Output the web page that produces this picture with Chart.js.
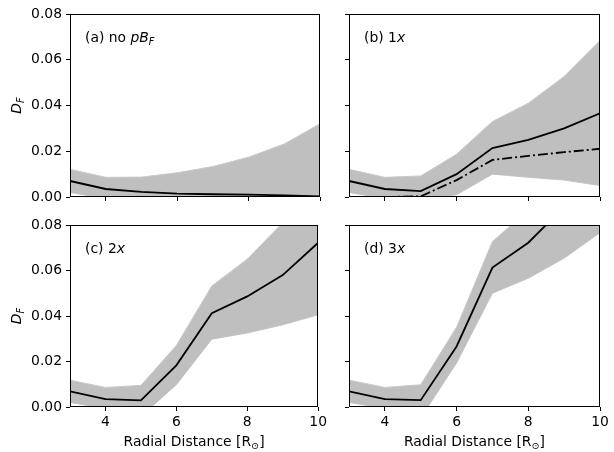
<!DOCTYPE html>
<html><head><meta charset="utf-8">
<script src="https://cdn.jsdelivr.net/npm/chart.js@4.4.0/dist/chart.umd.min.js"></script>
<style>
html,body{margin:0;padding:0;background:#fff;}
#wrap{position:relative;width:614px;height:452px;overflow:hidden;}
canvas{position:absolute;}
</style></head><body>
<div id="wrap">
<canvas id="ca" width="330" height="215" style="left:0;top:0"></canvas>
<canvas id="cb" width="310" height="215" style="left:300px;top:0"></canvas>
<canvas id="cc" width="330" height="241" style="left:0;top:211px"></canvas>
<canvas id="cd" width="314" height="241" style="left:300px;top:211px"></canvas>
</div>
<script>
// ---- data ----
const radii = [3, 4, 5, 6, 7, 8, 9, 10];
const xTicks = [4, 6, 8, 10];
const yTicks = [0, 0.02, 0.04, 0.06, 0.08];

const aMean  = [0.0070, 0.0035, 0.0022, 0.0015, 0.0012, 0.0010, 0.0007, 0.0003];
const aUpper = [0.0121, 0.0086, 0.0087, 0.0106, 0.0133, 0.0174, 0.0232, 0.0320];
const aLower = [0.0020, -0.0007, -0.0030, -0.0060, -0.0100, -0.0150, -0.0210, -0.0300];

const bMean  = [0.0070, 0.0035, 0.0026, 0.0100, 0.0214, 0.0250, 0.0300, 0.0366];
const bAlt   = [0.0000, 0.0000, 0.0003, 0.0074, 0.0162, 0.0180, 0.0196, 0.0211];
const bUpper = [0.0121, 0.0086, 0.0092, 0.0187, 0.0330, 0.0410, 0.0527, 0.0684];
const bLower = [0.0020, -0.0007, -0.0020, 0.0010, 0.0100, 0.0086, 0.0074, 0.0050];

const cMean  = [0.0069, 0.0035, 0.0029, 0.0183, 0.0412, 0.0486, 0.0580, 0.0722];
const cUpper = [0.0118, 0.0086, 0.0095, 0.0270, 0.0532, 0.0650, 0.0810, 0.1000];
const cLower = [0.0020, -0.0007, -0.0042, 0.0098, 0.0298, 0.0325, 0.0361, 0.0405];

const dMean  = [0.0069, 0.0035, 0.0030, 0.0266, 0.0613, 0.0722, 0.0880, 0.1050];
const dUpper = [0.0118, 0.0086, 0.0098, 0.0351, 0.0727, 0.0865, 0.1000, 0.1200];
const dLower = [0.0020, -0.0007, -0.0048, 0.0193, 0.0500, 0.0566, 0.0654, 0.0766];

const FONT = '"DejaVu Sans", sans-serif';
const FS = 13.9;
const SUB = 9.7;

function pts(arr) { return radii.map((x, i) => ({x: x, y: arr[i]})); }

function drawSegs(ctx, segs, x, y, align) {
  // segs: [text, style('n'|'i'), size, dy]
  let total = 0;
  segs.forEach(s => { ctx.font = (s[1] === 'i' ? 'italic ' : '') + s[2] + 'px ' + FONT; total += ctx.measureText(s[0]).width; });
  let cx = align === 'center' ? x - total / 2 : x;
  ctx.textBaseline = 'alphabetic';
  ctx.textAlign = 'left';
  segs.forEach(s => {
    ctx.font = (s[1] === 'i' ? 'italic ' : '') + s[2] + 'px ' + FONT;
    ctx.fillText(s[0], cx, y + (s[3] || 0));
    cx += ctx.measureText(s[0]).width;
  });
}

function makePanel(id, cfg) {
  const ctx = document.getElementById(id);
  const datasets = [
    {data: pts(cfg.mean), borderColor: '#000', borderWidth: 1.8, pointRadius: 0, fill: false, tension: 0}
  ];
  if (cfg.alt) datasets.push({data: pts(cfg.alt), borderColor: '#000', borderWidth: 1.8, borderDash: [10, 3, 2, 3], pointRadius: 0, fill: false, tension: 0});
  const upIdx = datasets.length;
  datasets.push({data: pts(cfg.upper), borderColor: '#c9c9c9', borderWidth: 1, backgroundColor: '#bfbfbf', pointRadius: 0, fill: upIdx + 1, tension: 0});
  datasets.push({data: pts(cfg.lower), borderColor: '#c9c9c9', borderWidth: 1, pointRadius: 0, fill: false, tension: 0});

  const textPlugin = {
    id: 'txt',
    afterDraw(chart) {
      const c = chart.ctx, a = chart.chartArea;
      c.save();
      c.strokeStyle = '#000'; c.lineWidth = 1;
      c.strokeRect(Math.round(a.left) + 0.5, Math.round(a.top) + 0.5, Math.round(a.right) - Math.round(a.left) - 1, Math.round(a.bottom) - Math.round(a.top) - 1);
      c.fillStyle = '#000';
      drawSegs(c, cfg.label, a.left + 15, a.top + 27.5, 'left');
      if (cfg.ytitle) {
        c.save();
        c.translate(20.5, (a.top + a.bottom) / 2);
        c.rotate(-Math.PI / 2);
        drawSegs(c, [['D', 'i', FS, 0], ['F', 'i', SUB, 3]], 0, 0, 'center');
        c.restore();
      }
      if (cfg.xtitle) {
        drawSegs(c, [['Radial Distance [R', 'n', FS, 0], ['\u2299', 'n', SUB, 3], [']', 'n', FS, 0]], (a.left + a.right) / 2, chart.height - 6.3, 'center');
      }
      c.restore();
    }
  };

  new Chart(ctx, {
    type: 'line',
    data: {datasets: datasets},
    plugins: [textPlugin],
    options: {
      responsive: false,
      animation: false,
      events: [],
      layout: {padding: {top: cfg.padTop, right: cfg.padRight, left: 0, bottom: 0}},
      plugins: {legend: {display: false}, tooltip: {enabled: false}},
      scales: {
        x: {
          type: 'linear', min: 3, max: 10,
          afterBuildTicks: s => { s.ticks = xTicks.map(v => ({value: v})); },
          afterFit: s => { s.height = cfg.xh; },
          grid: {display: true, drawOnChartArea: false, drawTicks: true, tickLength: 4, color: '#000', lineWidth: 1},
          border: {display: false},
          ticks: {display: cfg.xlabels, color: '#000', padding: 3, maxRotation: 0, font: {family: FONT, size: FS}, callback: v => String(v)}
        },
        y: {
          type: 'linear', min: 0, max: 0.08,
          afterBuildTicks: s => { s.ticks = yTicks.map(v => ({value: v})); },
          afterFit: s => { s.width = cfg.yw; },
          grid: {display: true, drawOnChartArea: false, drawTicks: true, tickLength: 4, color: '#000', lineWidth: 1},
          border: {display: false},
          ticks: {display: cfg.ylabels, color: '#000', padding: 4, font: {family: FONT, size: FS}, callback: v => v.toFixed(2)}
        }
      }
    }
  });
}

makePanel('ca', {mean: aMean, upper: aUpper, lower: aLower, label: [['(a) no ', 'n', FS], ['pB', 'i', FS], ['F', 'i', SUB, 3]],
  padTop: 14, padRight: 10, xh: 18, yw: 70, xlabels: false, ylabels: true, ytitle: true});
makePanel('cb', {mean: bMean, alt: bAlt, upper: bUpper, lower: bLower, label: [['(b) 1', 'n', FS], ['x', 'i', FS]],
  padTop: 14, padRight: 10, xh: 18, yw: 49, xlabels: false, ylabels: false});
makePanel('cc', {mean: cMean, upper: cUpper, lower: cLower, label: [['(c) 2', 'n', FS], ['x', 'i', FS]],
  padTop: 14, padRight: 10, xh: 45, yw: 70, xlabels: true, ylabels: true, ytitle: true, xtitle: true});
makePanel('cd', {mean: dMean, upper: dUpper, lower: dLower, label: [['(d) 3', 'n', FS], ['x', 'i', FS]],
  padTop: 14, padRight: 14, xh: 45, yw: 49, xlabels: true, ylabels: false, xtitle: true});
</script>
</body></html>
